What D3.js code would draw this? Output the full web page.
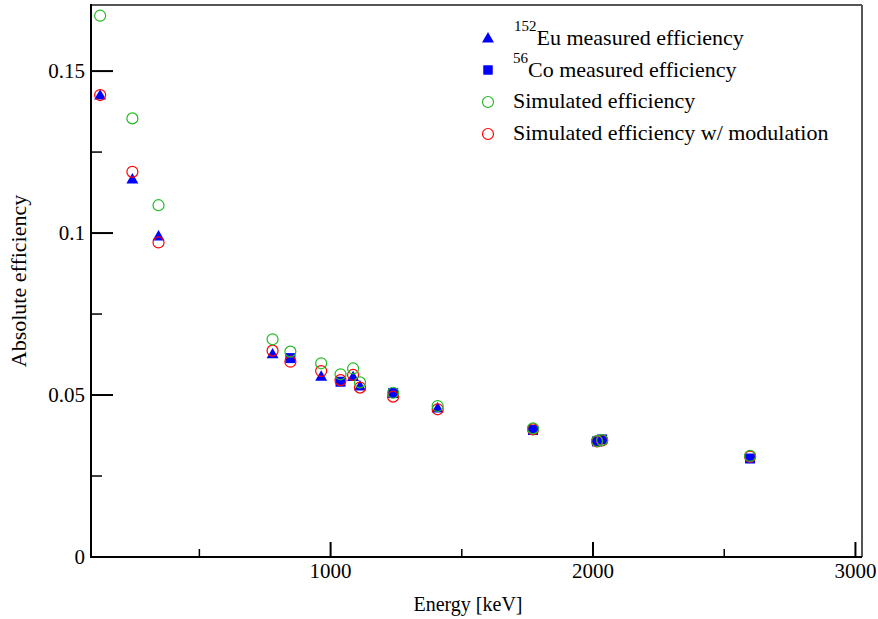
<!DOCTYPE html>
<html>
<head>
<meta charset="utf-8">
<script src="https://cdn.jsdelivr.net/npm/d3@7"></script>
<style>
  body { margin: 0; background: #fff; }
  svg text { font-family: "Liberation Serif", "Times New Roman", serif; fill: #000; }
</style>
</head>
<body>
<script>
// gamma line energies (keV)
var euEnergy = [121.78, 244.7, 344.3, 778.9, 964.1, 1085.8, 1112.1, 1408.0];
var euEff    = [0.1426, 0.1167, 0.0991, 0.0627, 0.0558, 0.0557, 0.0528, 0.0460];

var coEnergy = [846.8, 1037.8, 1238.3, 1771.4, 2015.2, 2034.8, 2598.5];
var coEff    = [0.0614, 0.0541, 0.0506, 0.0392, 0.0357, 0.0363, 0.0304];

var simEnergy = [121.78, 244.7, 344.3, 778.9, 846.8, 964.1, 1037.8, 1085.8, 1112.1, 1238.3, 1408.0, 1771.4, 2015.2, 2034.8, 2598.5];
var simEff    = [0.1671, 0.1354, 0.1086, 0.0672, 0.0634, 0.0598, 0.0564, 0.0582, 0.0539, 0.0507, 0.0466, 0.0397, 0.0358, 0.0361, 0.0312];
var modEff    = [0.1426, 0.1189, 0.0971, 0.0637, 0.0603, 0.0574, 0.0546, 0.0562, 0.0523, 0.0495, 0.0456, 0.0394, 0.0357, 0.0360, 0.0310];

var xTicks = [1000, 2000, 3000];
var xMinor = [500, 1500, 2500];
var yTicks = [0, 0.05, 0.1, 0.15];
var yMinor = [0.025, 0.075, 0.125];

var W = 878, H = 619;
var pL = 91, pR = 862, pT = 5, pB = 557;

var svg = d3.select("body").append("svg")
    .attr("width", W)
    .attr("height", H);

var x = d3.scaleLinear().domain([87, 3025]).range([pL, pR]);
var y = d3.scaleLinear().domain([0, 0.1704]).range([pB, pT]);

// frame: top and right in grey
svg.append("line").attr("x1", pL).attr("y1", pT).attr("x2", pR).attr("y2", pT)
    .attr("stroke", "#555").attr("stroke-width", 2);
svg.append("line").attr("x1", pR).attr("y1", pT).attr("x2", pR).attr("y2", pB)
    .attr("stroke", "#555").attr("stroke-width", 2);

// ticks drawn inward
svg.selectAll(".ymaj").data(yTicks).enter().append("line")
    .attr("x1", pL).attr("x2", pL + 22)
    .attr("y1", d => y(d)).attr("y2", d => y(d))
    .attr("stroke", "#000").attr("stroke-width", 2);
svg.selectAll(".ymin").data(yMinor).enter().append("line")
    .attr("x1", pL).attr("x2", pL + 11)
    .attr("y1", d => y(d)).attr("y2", d => y(d))
    .attr("stroke", "#000").attr("stroke-width", 1.5);
svg.selectAll(".xmaj").data(xTicks).enter().append("line")
    .attr("x1", d => x(d)).attr("x2", d => x(d))
    .attr("y1", pB).attr("y2", pB - 15)
    .attr("stroke", "#000").attr("stroke-width", 2);
svg.selectAll(".xmin").data(xMinor).enter().append("line")
    .attr("x1", d => x(d)).attr("x2", d => x(d))
    .attr("y1", pB).attr("y2", pB - 8)
    .attr("stroke", "#000").attr("stroke-width", 1.5);

// left and bottom axes lines
svg.append("line").attr("x1", pL).attr("y1", pT - 1).attr("x2", pL).attr("y2", pB + 1)
    .attr("stroke", "#000").attr("stroke-width", 2);
svg.append("line").attr("x1", pL - 1).attr("y1", pB).attr("x2", pR).attr("y2", pB)
    .attr("stroke", "#000").attr("stroke-width", 2);

// tick labels
svg.selectAll(".ylab").data(yTicks).enter().append("text")
    .attr("x", 85).attr("y", d => y(d)).attr("dy", "0.35em")
    .attr("text-anchor", "end").style("font-size", "21px")
    .text(d => d3.format("")(d));
svg.selectAll(".xlab").data(xTicks).enter().append("text")
    .attr("x", d => x(d)).attr("y", 578)
    .attr("text-anchor", "middle").style("font-size", "21px")
    .text(d => d);

// axis titles
svg.append("text").attr("x", 468).attr("y", 611)
    .attr("text-anchor", "middle").style("font-size", "20px")
    .text("Energy [keV]");
svg.append("text")
    .attr("transform", "translate(26,281) rotate(-90)")
    .attr("text-anchor", "middle").style("font-size", "22px")
    .text("Absolute efficiency");

var tri = d3.symbol().type(d3.symbolTriangle).size(62);
var sq = d3.symbol().type(d3.symbolSquare).size(100);

// points
var simPts = simEnergy.map((e, i) => ({e: e, v: simEff[i], m: modEff[i]}));
var coPts = coEnergy.map((e, i) => ({e: e, v: coEff[i]}));
var euPts = euEnergy.map((e, i) => ({e: e, v: euEff[i]}));

svg.selectAll(".co").data(coPts).enter().append("path")
    .attr("d", sq)
    .attr("transform", d => "translate(" + x(d.e) + "," + y(d.v) + ")")
    .attr("fill", "#0000ff");
svg.selectAll(".eu").data(euPts).enter().append("path")
    .attr("d", tri)
    .attr("transform", d => "translate(" + x(d.e) + "," + (y(d.v) + 1) + ")")
    .attr("fill", "#0000ff");
svg.selectAll(".mod").data(simPts).enter().append("circle")
    .attr("cx", d => x(d.e)).attr("cy", d => y(d.m)).attr("r", 5.5)
    .attr("fill", "none").attr("stroke", "#ff0000").attr("stroke-width", 1.2);
svg.selectAll(".sim").data(simPts).enter().append("circle")
    .attr("cx", d => x(d.e)).attr("cy", d => y(d.v)).attr("r", 5.5)
    .attr("fill", "none").attr("stroke", "#22bb22").attr("stroke-width", 1.2);

// legend
var lg = svg.append("g");
var mx = 488;
lg.append("path").attr("d", tri).attr("transform", "translate(" + mx + ",39)").attr("fill", "#0000ff");
lg.append("path").attr("d", d3.symbol().type(d3.symbolSquare).size(90))
    .attr("transform", "translate(" + mx + ",70)").attr("fill", "#0000ff");
lg.append("circle").attr("cx", mx).attr("cy", 102).attr("r", 5.5)
    .attr("fill", "none").attr("stroke", "#22bb22").attr("stroke-width", 1.2);
lg.append("circle").attr("cx", mx).attr("cy", 134).attr("r", 5.5)
    .attr("fill", "none").attr("stroke", "#ff0000").attr("stroke-width", 1.2);

var t1 = lg.append("text").attr("x", 514).attr("y", 45).style("font-size", "22px");
t1.append("tspan").attr("dy", -14).style("font-size", "15px").text("152");
t1.append("tspan").attr("dy", 14).text("Eu measured efficiency");
var t2 = lg.append("text").attr("x", 513).attr("y", 77).style("font-size", "22px");
t2.append("tspan").attr("dy", -14).style("font-size", "15px").text("56");
t2.append("tspan").attr("dy", 14).text("Co measured efficiency");
lg.append("text").attr("x", 513).attr("y", 108).style("font-size", "22px").text("Simulated efficiency");
lg.append("text").attr("x", 513).attr("y", 140).style("font-size", "22px").text("Simulated efficiency w/ modulation");
</script>
</body>
</html>
